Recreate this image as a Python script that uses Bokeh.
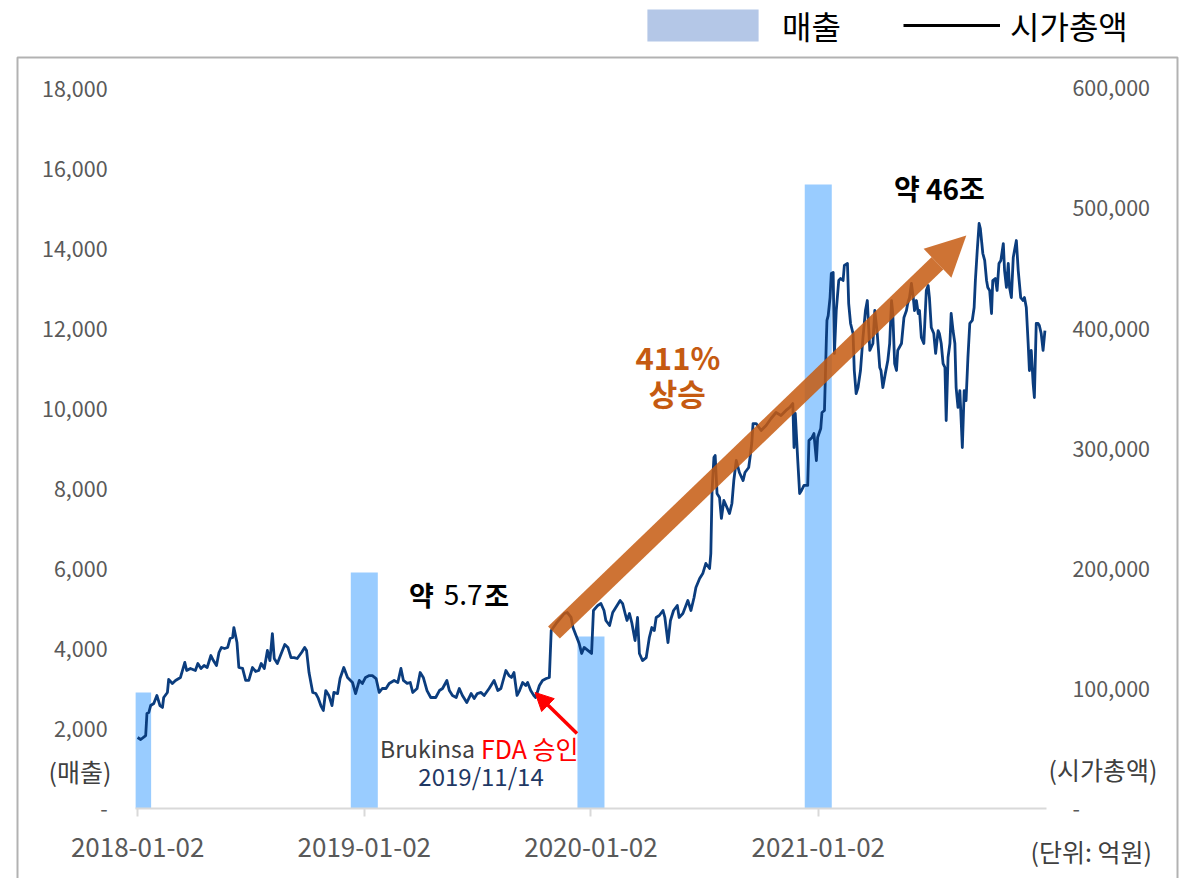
import pandas as pd
from bokeh.plotting import figure
from bokeh.models import (Range1d, LinearAxis, FixedTicker, NumeralTickFormatter,
                          DatetimeTickFormatter, Label, Arrow, NormalHead, BoxAnnotation,
                          Legend, LegendItem, ColumnDataSource)
from bokeh.embed import file_html
from bokeh.resources import INLINE

FONT = "Noto Sans CJK KR"

# ---------------- data ----------------
base_date = "2018-01-02"

sales_dates = ["2018-01-02", "2019-01-02", "2020-01-02", "2021-01-02"]
sales_values = [2900, 5900, 4300, 15600]          # 매출 (억원)

# 시가총액 (억원), days counted from 2018-01-02
cap_days = [
    0, 5, 13, 15, 18, 21, 26, 31, 36, 40,
    42, 48, 50, 56, 61, 69, 76, 79, 85, 93,
    97, 102, 107, 112, 118, 122, 127, 131, 135, 140,
    145, 149, 153, 155, 160, 163, 169, 174, 179, 185,
    190, 195, 199, 204, 209, 213, 217, 220, 225, 230,
    237, 242, 247, 252, 257, 264, 269, 272, 276, 282,
    287, 291, 295, 299, 303, 308, 313, 316, 322, 326,
    332, 338, 346, 351, 357, 362, 367, 373, 378, 384,
    389, 394, 400, 405, 413, 419, 424, 428, 434, 439,
    443, 450, 455, 460, 466, 472, 480, 486, 491, 498,
    502, 507, 513, 518, 523, 530, 537, 542, 547, 553,
    558, 566, 574, 580, 585, 593, 598, 602, 606, 611,
    615, 620, 625, 628, 633, 638, 641, 647, 652, 658,
    663, 666, 674, 682, 687, 692, 698, 701, 706, 711,
    715, 719, 725, 731, 734, 741, 746, 751, 754, 760,
    765, 770, 777, 781, 785, 788, 792, 796, 801, 805,
    808, 813, 819, 824, 828, 832, 835, 840, 846, 849,
    854, 858, 863, 869, 872, 878, 886, 891, 896, 899,
    905, 910, 915, 921, 923, 925, 928, 930, 933, 937,
    940, 944, 949, 953, 957, 960, 964, 969, 975, 978,
    984, 987, 989, 991, 996, 1004, 1012, 1020, 1028, 1036,
    1044, 1050, 1055, 1057, 1059, 1063, 1066, 1069, 1073, 1079,
    1081, 1086, 1089, 1093, 1095, 1100, 1102, 1106, 1109, 1110,
    1112, 1115, 1117, 1120, 1122, 1125, 1129, 1132, 1136, 1138,
    1143, 1145, 1148, 1152, 1154, 1157, 1160, 1164, 1168, 1172,
    1175, 1179, 1184, 1187, 1191, 1195, 1197, 1200, 1204, 1208,
    1211, 1214, 1216, 1219, 1222, 1224, 1230, 1234, 1238, 1240,
    1243, 1246, 1249, 1251, 1254, 1257, 1259, 1262, 1266, 1270,
    1273, 1275, 1278, 1282, 1285, 1289, 1291, 1294, 1297, 1300,
    1302, 1305, 1308, 1310, 1313, 1316, 1318, 1321, 1324, 1328,
    1331, 1334, 1337, 1340, 1344, 1347, 1349, 1352, 1355, 1357,
    1361, 1364, 1367, 1369, 1372, 1375, 1377, 1381, 1384, 1387,
    1390, 1394, 1396, 1399, 1402, 1404, 1407, 1410, 1412, 1415,
    1418, 1422, 1426, 1428, 1431, 1434, 1436, 1439, 1442, 1444,
    1447, 1450, 1452, 1455, 1458, 1461,
]
cap_values = [
    59200, 57500, 60800, 79200, 80000, 85800, 87500, 94200, 85800, 84200,
    92500, 96700, 107500, 104200, 106700, 109200, 121700, 115000, 116700, 115000,
    120800, 116700, 119200, 117500, 127500, 123300, 119200, 130000, 134200, 133300,
    134200, 141700, 142500, 150800, 138300, 117500, 116700, 106700, 106700, 117500,
    114200, 115000, 120800, 116700, 131700, 123300, 145800, 125000, 120800, 127500,
    136700, 134200, 125800, 125800, 125000, 130000, 134200, 131700, 113300, 96700,
    95800, 91700, 85800, 81700, 98300, 94200, 85800, 96700, 95800, 108300,
    117500, 109200, 105000, 95800, 106700, 104200, 109200, 110800, 110800, 108300,
    96700, 100000, 100000, 104200, 106700, 105000, 116700, 106700, 104200, 105000,
    96700, 100000, 113300, 109200, 98300, 92500, 92500, 98300, 100000, 106700,
    98300, 94200, 92500, 100000, 94200, 88300, 95800, 91700, 95800, 96700,
    94200, 100000, 106700, 98300, 100000, 115000, 110800, 109200, 113300, 94200,
    98300, 105000, 102500, 105000, 98300, 94200, 92500, 102500, 106700, 108300,
    109200, 148300, 154200, 159200, 162500, 163300, 159200, 150800, 144200, 137500,
    129200, 134200, 131700, 129200, 165000, 169200, 170800, 165000, 156700, 152500,
    163300, 167500, 173300, 170800, 162500, 156700, 162500, 154200, 140000, 159200,
    129200, 123300, 125800, 142500, 150800, 148300, 159200, 160800, 165000, 159200,
    138300, 156700, 165000, 169200, 159200, 162500, 173300, 165000, 175800, 184200,
    191700, 195800, 204200, 200000, 212500, 265000, 292500, 294200, 262500, 259200,
    241700, 256700, 250800, 245800, 254200, 273300, 290000, 280000, 273300, 280000,
    284200, 295800, 305000, 320800, 320800, 315000, 319200, 325000, 330000, 327500,
    331700, 334200, 337500, 300800, 329200, 290000, 262500, 265000, 269200, 269200,
    306700, 309200, 312500, 290000, 309200, 316700, 330000, 331700, 390000, 406700,
    410800, 425800, 445800, 446700, 379200, 415000, 440000, 441700, 440000, 452500,
    454200, 420800, 404200, 395800, 365000, 345800, 350800, 365000, 392500, 415000,
    423300, 381700, 387500, 415000, 395800, 367500, 365000, 350800, 362500, 373300,
    387500, 423300, 412500, 370800, 365000, 381700, 387500, 409200, 415000, 420800,
    425800, 437500, 425800, 415000, 423300, 412500, 415000, 392500, 387500, 431700,
    435800, 425800, 400800, 395800, 379200, 398300, 395800, 387500, 370800, 367500,
    323300, 375800, 387500, 412500, 398300, 387500, 350800, 334200, 348300, 300800,
    348300, 340000, 375800, 404200, 406700, 417500, 440000, 465000, 487500, 483300,
    462500, 456700, 440000, 434200, 431700, 412500, 440000, 441700, 431700, 454200,
    456700, 470800, 448300, 434200, 454200, 434200, 425800, 459200, 465000, 473300,
    448300, 425800, 423300, 425800, 417500, 387500, 365000, 381700, 354200, 342500,
    404200, 404200, 402500, 395800, 381700, 398300,
]

x_tick_dates = ["2018-01-02", "2019-01-02", "2020-01-02", "2021-01-02"]
left_ticks = [0, 2000, 4000, 6000, 8000, 10000, 12000, 14000, 16000, 18000]
right_ticks = [0, 100000, 200000, 300000, 400000, 500000, 600000]

# ---------------- helpers ----------------
base = pd.Timestamp(base_date)
DAY_MS = 86400000.0
NAN = float("nan")


def day_ms(d):
    return (base + pd.Timedelta(days=d)).value / 1e6


def date_ms(s):
    return pd.Timestamp(s).value / 1e6


BAR_COLOR = "#99CCFF"
LINE_COLOR = "#0B3D7E"
ORANGE = "#C55A11"
GRAY = "#595959"
DARK = "#404040"

W, H = 1190, 878

# plot-area extent (axis start / end) and full-canvas ranges
AX_START = day_ms(-3.2)
AX_END = day_ms(1463.4)
BAR_HALF = 21.75 * DAY_MS

bar_left = [max(date_ms(d) - BAR_HALF, AX_START) for d in sales_dates]
bar_right = [date_ms(d) + BAR_HALF for d in sales_dates]
sales_src = ColumnDataSource(dict(left=bar_left, right=bar_right,
                                  top=sales_values, bottom=[0] * len(sales_values)))
cap_src = ColumnDataSource(dict(x=[day_ms(d) for d in cap_days], y=cap_values))

p = figure(width=W, height=H, x_axis_type="datetime",
           x_range=Range1d(day_ms(-220.8), day_ms(1695.4)),
           y_range=Range1d(-1750, 20200),
           output_backend="svg", toolbar_location=None,
           min_border_left=0, min_border_right=0,
           min_border_top=0, min_border_bottom=0,
           background_fill_color="white", border_fill_color="white",
           outline_line_color=None)
p.title.visible = False
p.extra_y_ranges = {"cap": Range1d(-58333.3, 673333.3)}
p.grid.visible = False

# bars (매출)
p.quad(left="left", right="right", top="top", bottom="bottom", source=sales_src,
       fill_color=BAR_COLOR, line_color=None)

# line (시가총액)
p.line(x="x", y="y", source=cap_src, y_range_name="cap",
       line_color=LINE_COLOR, line_width=2.8, line_join="round")

# ---------------- axes (drawn inside the bordered area) ----------------
xa = p.xaxis[0]
xa.fixed_location = 0
xa.bounds = (AX_START, AX_END)
xa.ticker = FixedTicker(ticks=[date_ms(d) for d in x_tick_dates])
xa.formatter = DatetimeTickFormatter(days="%Y-%m-%d", months="%Y-%m-%d", years="%Y-%m-%d")
xa.axis_line_color = "#D9D9D9"
xa.axis_line_width = 2
xa.major_tick_line_color = "#D9D9D9"
xa.major_tick_line_width = 2
xa.major_tick_out = 8
xa.major_tick_in = 0
xa.minor_tick_line_color = None
xa.major_label_text_font = FONT
xa.major_label_text_font_size = "26px"
xa.major_label_text_color = GRAY
xa.major_label_standoff = 21

ya = p.yaxis[0]
ya.fixed_location = AX_START
ya.bounds = (0, 18000)
ya.ticker = FixedTicker(ticks=left_ticks)
ya.formatter = NumeralTickFormatter(format="0,0")
ya.major_label_overrides = {0: "-"}
ya.axis_line_color = None
ya.major_tick_line_color = None
ya.minor_tick_line_color = None
ya.major_label_text_font = FONT
ya.major_label_text_font_size = "21.5px"
ya.major_label_text_color = GRAY
ya.major_label_standoff = 22

yr = LinearAxis(y_range_name="cap", fixed_location=AX_END, bounds=(0, 600000),
                ticker=FixedTicker(ticks=right_ticks),
                formatter=NumeralTickFormatter(format="0,0"),
                major_label_overrides={0: "-"},
                axis_line_color=None, major_tick_line_color=None,
                minor_tick_line_color=None,
                major_label_text_font=FONT, major_label_text_font_size="21.5px",
                major_label_text_color=GRAY, major_label_standoff=20)
p.add_layout(yr, "right")

# ---------------- outer frame ----------------
p.add_layout(BoxAnnotation(left=17, right=1177, top=H - 57, bottom=-20,
                           left_units="screen", right_units="screen",
                           top_units="screen", bottom_units="screen",
                           fill_color=None, fill_alpha=0,
                           line_color="black", line_width=2))

# ---------------- legend (legend-only renderers, nothing drawn in the plot) ----------------
leg_bar = p.quad(left=[NAN], right=[NAN], top=[NAN], bottom=[NAN],
                 fill_color="#B4C7E7", line_color=None)
leg_line = p.line(x=[NAN], y=[NAN], line_color="black", line_width=3)

legend1 = Legend(items=[LegendItem(label="매출", renderers=[leg_bar])],
                 location=(633, H - 48), orientation="horizontal",
                 glyph_width=139, glyph_height=40, label_height=40,
                 label_standoff=10, label_text_font=FONT,
                 label_text_font_size="32px", label_text_color="black",
                 padding=0, margin=0, spacing=0,
                 border_line_color=None, background_fill_alpha=0)
legend2 = Legend(items=[LegendItem(label="시가총액", renderers=[leg_line])],
                 location=(903, H - 48), orientation="horizontal",
                 glyph_width=97, glyph_height=40, label_height=40,
                 label_standoff=10, label_text_font=FONT,
                 label_text_font_size="32px", label_text_color="black",
                 padding=0, margin=0, spacing=0,
                 border_line_color=None, background_fill_alpha=0)
p.add_layout(legend1)
p.add_layout(legend2)

# ---------------- annotations ----------------

def lab(text, x, y, size, color, bold=False, align="center", units="data"):
    return Label(x=x, y=y, x_units=units, y_units=units, text=text,
                 text_font=FONT, text_font_size=f"{size}px", text_color=color,
                 text_font_style="bold" if bold else "normal",
                 text_align=align, text_baseline="middle")


# big orange arrow
p.add_layout(Arrow(end=NormalHead(size=40, fill_color=ORANGE, fill_alpha=0.85,
                                  line_color=None),
                   x_start=day_ms(670.4), y_start=4400,
                   x_end=day_ms(1334.4), y_end=14325,
                   line_color=ORANGE, line_width=17, line_alpha=0.85))

# red arrow to approval date
p.add_layout(Arrow(end=NormalHead(size=18, fill_color="red", line_color="red"),
                   x_start=day_ms(707.5), y_start=1875,
                   x_end=day_ms(640), y_end=2900,
                   line_color="red", line_width=3.5))

p.add_layout(lab("약 46조", day_ms(1291), 15525, 28, "black", bold=True))
p.add_layout(lab("약", day_ms(437), 5350, 27, "black", bold=True, align="left"))
p.add_layout(lab("5.7", day_ms(493), 5350, 28, "black", align="left"))
p.add_layout(lab("조", day_ms(558), 5350, 27, "black", bold=True, align="left"))
p.add_layout(lab("411%", day_ms(870), 11300, 31, ORANGE, bold=True))
p.add_layout(lab("상승", day_ms(869), 10400, 31, ORANGE, bold=True))
p.add_layout(lab("Brukinsa", day_ms(543), 1525, 23, DARK, align="right"))
p.add_layout(lab("FDA 승인", day_ms(553), 1525, 25, "#FF0000", align="left"))
p.add_layout(lab("2019/11/14", day_ms(553), 825, 24, "#1F3864"))

# unit labels (screen units, measured from bottom-left of the canvas)
p.add_layout(lab("(매출)", 48, H - 770, 25, DARK, align="left", units="screen"))
p.add_layout(lab("(시가총액)", 1048, H - 768, 25, DARK, align="left", units="screen"))
p.add_layout(lab("(단위: 억원)", 1030, H - 850, 25, DARK, align="left", units="screen"))

open("out.html", "w").write(file_html(p, INLINE))
